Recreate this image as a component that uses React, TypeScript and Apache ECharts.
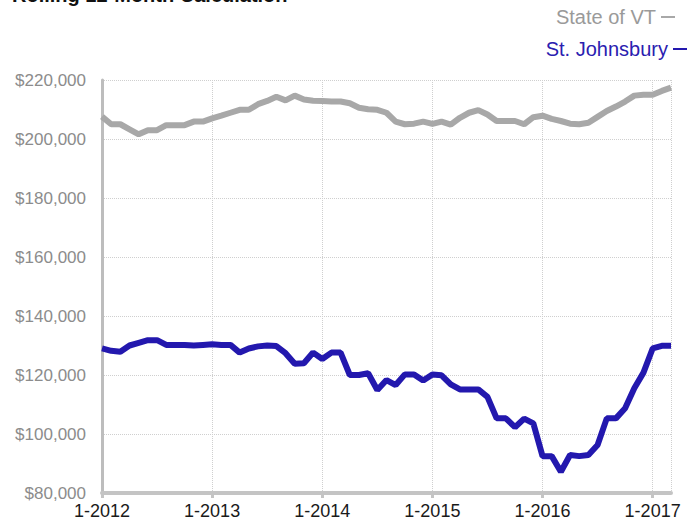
import React, { useEffect, useRef } from 'react';
import * as echarts from 'echarts';

const yearLabels = ['1-2012', '1-2013', '1-2014', '1-2015', '1-2016', '1-2017'];

const seriesNames = ['State of VT', 'St. Johnsbury'];

const stateVT = [
  207600, 205000, 205000, 203300, 201600, 203000, 203000, 204700, 204700, 204700,
  205900, 205900, 207000, 207900, 208900, 209900, 209900, 211800, 212900, 214300,
  213100, 214700, 213400, 213000, 212900, 212700, 212700, 212100, 210600, 210100,
  209900, 208900, 205900, 205000, 205200, 205900, 205100, 205900, 204900, 207200,
  208900, 209800, 208300, 206100, 206100, 206100, 205000, 207400, 207900, 206800,
  206100, 205200, 205000, 205500, 207500, 209500, 211000, 212700, 214700, 215000,
  215000, 216300, 217400,
];

const stJohnsbury = [
  129000, 128200, 127900, 130000, 130900, 131800, 131800, 130200, 130200, 130200,
  130000, 130200, 130400, 130200, 130200, 127600, 129000, 129700, 130000, 129800,
  127400, 123800, 124000, 127600, 125400, 127600, 127600, 120000, 120000, 120600,
  114900, 118300, 116600, 120200, 120200, 118100, 120200, 119900, 116800, 115100,
  115100, 115100, 112600, 105300, 105300, 102300, 105200, 103600, 92500, 92500,
  87200, 92900, 92500, 92900, 96300, 105300, 105300, 108700, 115500, 120800,
  129000, 129900, 129900,
];

const FONT = '"Liberation Sans", Arial, Helvetica, sans-serif';
const GRAY_LINE = '#a8a8a8';
const BLUE_LINE = '#2318ae';

export default function App() {
  const ref = useRef<HTMLDivElement>(null);

  useEffect(() => {
    if (!ref.current) return;
    const chart = echarts.init(ref.current, null, { renderer: 'svg' });
    const toPairs = (arr: number[]) => arr.map((v, i) => [i, v]);
    chart.setOption({
      animation: false,
      backgroundColor: '#ffffff',
      graphic: [
        {
          type: 'text',
          x: 12,
          y: 5,
          style: {
            text: 'Rolling 12-Month Calculation',
            font: `bold 20px ${FONT}`,
            fill: '#111',
            verticalAlign: 'bottom',
          },
        },
      ],
      legend: [
        {
          data: [seriesNames[0]],
          right: 14,
          top: 7,
          padding: 0,
          align: 'right',
          icon: 'rect',
          itemWidth: 14,
          itemHeight: 2,
          textStyle: { color: '#9a9a9a', fontSize: 20, fontFamily: FONT },
        },
        {
          data: [seriesNames[1]],
          right: 2,
          top: 39,
          padding: 0,
          align: 'right',
          icon: 'rect',
          itemWidth: 14,
          itemHeight: 2,
          textStyle: { color: '#2a20b0', fontSize: 20, fontFamily: FONT },
        },
      ],
      grid: { left: 102, right: 18, top: 80, bottom: 32, containLabel: false },
      xAxis: {
        type: 'value',
        min: 0,
        max: stateVT.length - 1,
        interval: 12,
        axisLine: { show: true, lineStyle: { color: '#c4c4c4', width: 4 } },
        axisTick: { show: true, length: 5, lineStyle: { color: '#c4c4c4', width: 3 } },
        axisLabel: {
          color: '#1a1a1a',
          fontSize: 18,
          fontFamily: FONT,
          margin: 9,
          showMaxLabel: false,
          formatter: (v: number) => (v % 12 === 0 ? yearLabels[v / 12] ?? '' : ''),
        },
        splitLine: { show: true, lineStyle: { color: '#cfcfcf', type: 'dotted', width: 1 } },
      },
      yAxis: {
        type: 'value',
        min: 80000,
        max: 220000,
        interval: 20000,
        axisLine: { show: true, lineStyle: { color: '#bdbdbd', width: 3 } },
        axisTick: { show: false },
        axisLabel: {
          color: '#8c8c8c',
          fontSize: 17,
          fontFamily: FONT,
          margin: 16,
          formatter: (v: number) => '$' + v.toLocaleString('en-US'),
        },
        splitLine: { show: true, lineStyle: { color: '#cfcfcf', type: 'dotted', width: 1 } },
      },
      series: [
        {
          name: seriesNames[0],
          type: 'line',
          data: toPairs(stateVT),
          symbol: 'none',
          lineStyle: { color: GRAY_LINE, width: 6 },
          itemStyle: { color: GRAY_LINE },
        },
        {
          name: seriesNames[1],
          type: 'line',
          data: toPairs(stJohnsbury),
          symbol: 'none',
          lineStyle: { color: BLUE_LINE, width: 6 },
          itemStyle: { color: BLUE_LINE },
        },
      ],
    });
    return () => chart.dispose();
  }, []);

  return (
    <div
      ref={ref}
      style={{ position: 'fixed', left: 0, top: 0, width: 689, height: 525, background: '#fff' }}
    />
  );
}
